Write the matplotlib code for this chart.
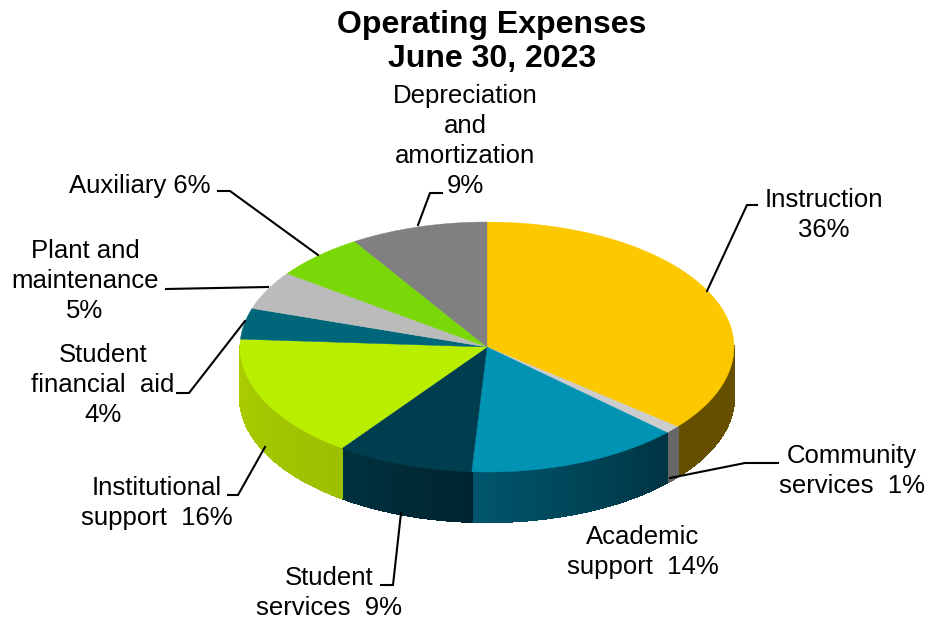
import numpy as np
import matplotlib
matplotlib.use('Agg')
import matplotlib.pyplot as plt

plt.rcParams['font.family'] = ['Liberation Sans', 'DejaVu Sans']

# slices, clockwise from 12 o'clock
categories = ['Instruction', 'Community services', 'Academic support', 'Student services',
              'Institutional support', 'Student financial aid', 'Plant and maintenance',
              'Auxiliary', 'Depreciation and amortization']
values = [36, 1, 14, 9, 16, 4, 5, 6, 9]
top_colors = ['#FCC900', '#CCCCCC', '#0093B4', '#003E4F', '#B9EE00', '#00677A',
              '#BBBBBB', '#7AD808', '#808080']
# wall colours at the start and at the end of each slice
side_start = ['#665000', '#666666', '#003543', '#002530', '#9CC000', '#00677A',
              '#BBBBBB', '#7AD808', '#808080']
side_end = ['#665000', '#666666', '#00566E', '#00323F', '#AACD00', '#00677A',
            '#BBBBBB', '#7AD808', '#808080']

labels = ['Instruction\n36%', 'Community\nservices  1%', 'Academic\nsupport  14%',
          'Student\nservices  9%', 'Institutional\nsupport  16%', 'Student\nfinancial  aid\n4%',
          'Plant and\nmaintenance\n5%', 'Auxiliary 6%', 'Depreciation\nand\namortization\n9%']
label_pos = [(824, 215), (852, 471), (643, 552), (329, 593), (157, 503), (103, 385),
             (85, 281), (140, 186), (465, 141)]
leaders = [
    [(757, 205), (747, 205), (707, 291)],
    [(778, 463), (745, 463), (670, 478)],
    None,
    [(381, 585), (393, 585), (401, 513)],
    [(228, 495), (238, 495), (265, 447)],
    [(177, 393), (189, 393), (245, 321)],
    [(166, 289), (268, 287)],
    [(218, 191), (230, 191), (318, 255)],
    [(442, 193), (430, 193), (418, 225)],
]

cx, cy, rx, ry, depth = 487, 347, 247, 125, 50


def rim(a):
    a = np.radians(a)
    return cx + rx * np.sin(a), cy - ry * np.cos(a)


def mix(c1, c2, t):
    c1 = np.array(matplotlib.colors.to_rgb(c1))
    c2 = np.array(matplotlib.colors.to_rgb(c2))
    return c1 + (c2 - c1) * t


fig = plt.figure(figsize=(9.27, 6.21), dpi=100)
ax = fig.add_axes([0, 0, 1, 1])
ax.set_xlim(0, 927)
ax.set_ylim(621, 0)
ax.axis('off')

edges = np.concatenate([[0], np.cumsum(values)]) * 360 / sum(values)

# walls first, only the part that faces the viewer
for i in range(len(values)):
    a0 = max(edges[i], 90)
    a1 = min(edges[i + 1], 270)
    if a1 <= a0:
        continue
    steps = max(int((a1 - a0) / 1.5), 1)
    ang = np.linspace(a0, a1, steps + 1)
    for j in range(steps):
        x0, y0 = rim(ang[j])
        x1, y1 = rim(ang[j + 1])
        c = mix(side_start[i], side_end[i], j / steps)
        ax.fill([x0, x1, x1, x0], [y0 - 1, y1 - 1, y1 + depth, y0 + depth],
                facecolor=c, edgecolor=c, lw=1.0, antialiased=False, zorder=2)

# top face
for i in range(len(values)):
    ang = np.linspace(edges[i], edges[i + 1], 60)
    x, y = rim(ang)
    ax.fill(np.r_[cx, x], np.r_[cy, y], color=top_colors[i], lw=0.3, zorder=3)

for pts in leaders:
    if pts:
        xs, ys = zip(*pts)
        ax.plot(xs, ys, color='black', lw=1.5, zorder=4, solid_joinstyle='miter')

for text, (x, y) in zip(labels, label_pos):
    ax.text(x, y, text, fontsize=18.5, ha='center', va='center', multialignment='center',
            linespacing=1.33, color='black', zorder=5)

ax.text(492, 42, 'Operating Expenses\nJune 30, 2023', fontsize=23, fontweight='bold',
        ha='center', va='center', multialignment='center', linespacing=1.17)

fig.savefig('out.png', dpi=100)
